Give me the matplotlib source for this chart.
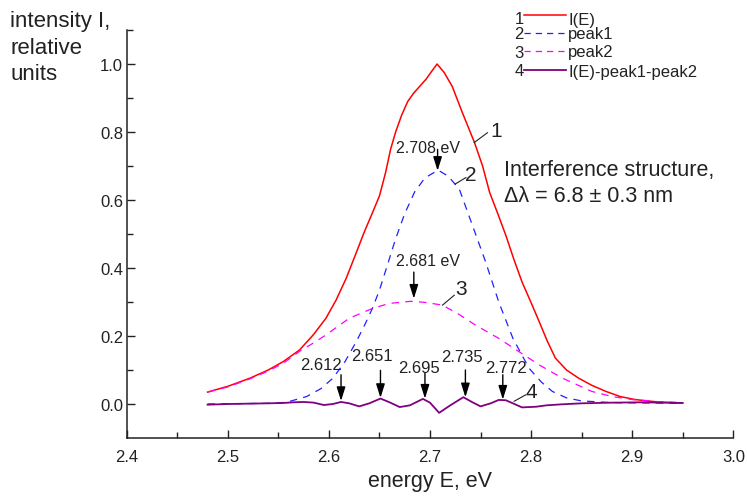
import numpy as np
import matplotlib.pyplot as plt
from matplotlib.lines import Line2D

plt.rcParams['font.family'] = ['Liberation Sans', 'DejaVu Sans']

# curve 1: I(E)
e_total = [2.480, 2.500, 2.522, 2.540, 2.555, 2.571, 2.585, 2.597, 2.607, 2.617,
           2.626, 2.635, 2.643, 2.650, 2.656, 2.661, 2.666, 2.672, 2.678, 2.684,
           2.690, 2.696, 2.702, 2.707, 2.714, 2.722, 2.732, 2.744, 2.752, 2.759,
           2.767, 2.775, 2.783, 2.791, 2.800, 2.808, 2.816, 2.824, 2.835, 2.847,
           2.860, 2.874, 2.888, 2.903, 2.925, 2.949]
i_total = [0.035, 0.052, 0.076, 0.100, 0.125, 0.159, 0.205, 0.252, 0.305, 0.369,
           0.437, 0.506, 0.562, 0.612, 0.680, 0.749, 0.800, 0.850, 0.890, 0.915,
           0.935, 0.955, 0.980, 1.000, 0.975, 0.934, 0.857, 0.769, 0.700, 0.622,
           0.560, 0.496, 0.425, 0.359, 0.298, 0.242, 0.185, 0.135, 0.100, 0.076,
           0.055, 0.037, 0.022, 0.013, 0.006, 0.003]

# curve 2: peak1
e_peak1 = [2.480, 2.540, 2.558, 2.578, 2.592, 2.604, 2.616, 2.627, 2.635, 2.643,
           2.650, 2.658, 2.666, 2.675, 2.685, 2.695, 2.708, 2.718, 2.729, 2.742,
           2.755, 2.768, 2.782, 2.798, 2.810, 2.821, 2.835, 2.850, 2.880, 2.950]
i_peak1 = [0.000, 0.002, 0.005, 0.022, 0.045, 0.076, 0.125, 0.183, 0.230, 0.281,
           0.335, 0.410, 0.486, 0.560, 0.625, 0.665, 0.688, 0.670, 0.632, 0.525,
           0.418, 0.300, 0.193, 0.105, 0.065, 0.037, 0.018, 0.009, 0.004, 0.002]

# curve 3: peak2
e_peak2 = [2.480, 2.500, 2.522, 2.540, 2.555, 2.571, 2.585, 2.597, 2.620, 2.643,
           2.660, 2.681, 2.695, 2.712, 2.728, 2.745, 2.768, 2.788, 2.808, 2.831,
           2.860, 2.880, 2.900, 2.925, 2.949]
i_peak2 = [0.035, 0.050, 0.074, 0.097, 0.120, 0.155, 0.180, 0.203, 0.252, 0.281,
           0.296, 0.302, 0.299, 0.291, 0.265, 0.232, 0.193, 0.154, 0.115, 0.076,
           0.037, 0.022, 0.013, 0.007, 0.004]

# curve 4: I(E)-peak1-peak2
e_resid = [2.480, 2.500, 2.520, 2.540, 2.555, 2.565, 2.575, 2.585, 2.595, 2.604,
           2.612, 2.620, 2.630, 2.640, 2.651, 2.660, 2.670, 2.680, 2.693, 2.700,
           2.709, 2.720, 2.733, 2.742, 2.750, 2.760, 2.768, 2.775, 2.782, 2.791,
           2.805, 2.815, 2.830, 2.850, 2.880, 2.910, 2.950]
i_resid = [-0.002, 0.000, 0.001, 0.002, 0.003, 0.005, 0.006, 0.004, -0.003, 0.000,
           0.006, 0.002, -0.007, 0.002, 0.016, 0.005, -0.009, -0.004, 0.015, 0.004,
           -0.026, -0.004, 0.020, 0.005, -0.007, 0.002, 0.012, 0.011, 0.002, -0.010,
           -0.008, -0.004, -0.001, 0.002, 0.004, 0.005, 0.003]

# interference maxima marked with arrows
fringe_e = [2.612, 2.651, 2.695, 2.735, 2.772]
fringe_labels = ['2.612', '2.651', '2.695', '2.735', '2.772']
fringe_tip = [0.009, 0.018, 0.016, 0.020, 0.013]
fringe_top = [0.086, 0.099, 0.091, 0.100, 0.086]
fringe_lab_x = [2.592, 2.643, 2.689, 2.732, 2.775]
fringe_lab_y = [0.115, 0.144, 0.107, 0.139, 0.107]

# peak position arrows
peak_e = [2.7075, 2.684]
peak_labels = ['2.708 eV', '2.681 eV']
peak_tip = [0.686, 0.310]
peak_top = [0.749, 0.388]
peak_lab_x = [2.698, 2.698]
peak_lab_y = [0.754, 0.422]

# curve number labels with leader lines
num_labels = ['1', '2', '3', '4']
num_x = [2.765, 2.7405, 2.7306, 2.7997]
num_y = [0.803, 0.676, 0.339, 0.037]
lead_x0 = [2.7437, 2.7249, 2.7124, 2.7832]
lead_y0 = [0.769, 0.647, 0.291, 0.008]
lead_x1 = [2.7568, 2.7355, 2.7240, 2.7947]
lead_y1 = [0.798, 0.666, 0.320, 0.027]

legend_labels = ['I(E)', 'peak1', 'peak2', 'I(E)-peak1-peak2']
ylabel_lines = ['intensity I,', 'relative', 'units']
x_ticks = [2.4, 2.5, 2.6, 2.7, 2.8, 2.9, 3.0]
y_ticks = [0.0, 0.2, 0.4, 0.6, 0.8, 1.0]

fig = plt.figure(figsize=(7.47, 5.02), dpi=100)
ax = fig.add_axes([0.1696, 0.1255, 0.8121, 0.8127])

red, = ax.plot(e_total, i_total, color='#ff0000', lw=1.1)
blue, = ax.plot(e_peak1, i_peak1, color='#2020ff', lw=0.9, dashes=(6, 5))
mag, = ax.plot(e_peak2, i_peak2, color='#ff00ff', lw=0.9, dashes=(6, 5))
purp, = ax.plot(e_resid, i_resid, color='#800080', lw=1.3)

ax.set_xlim(2.4, 3.0)
ax.set_ylim(-0.1, 1.1)
ax.set_xticks(x_ticks)
ax.set_xticks(np.arange(2.45, 3.0, 0.1), minor=True)
ax.set_yticks(y_ticks)
ax.set_yticks(np.arange(0.1, 1.11, 0.2), minor=True)
ax.set_xticklabels([f'{v:.1f}' for v in x_ticks])
ax.set_yticklabels([f'{v:.1f}' for v in y_ticks])
ax.tick_params(which='both', direction='in', colors='#222222', labelsize=12)
ax.tick_params(axis='x', which='major', length=6, width=1, pad=8)
ax.tick_params(axis='y', which='major', length=6, width=1, pad=2.5)
ax.tick_params(which='minor', length=4, width=1)
for s in ['top', 'right']:
    ax.spines[s].set_visible(False)
for s in ['left', 'bottom']:
    ax.spines[s].set_linewidth(1.1)
    ax.spines[s].set_color('#222222')

ax.set_xlabel('energy E, eV', fontsize=15.5, color='#222222', labelpad=4)
# y label as three separate lines at the top-left corner
for k, line in enumerate(ylabel_lines):
    fig.text(10 / 747, 1 - (22 + 26.5 * k) / 502, line, fontsize=16,
             color='#222222', va='center', ha='left')

aprops = dict(arrowstyle='-|>,head_length=0.7,head_width=0.22', color='black',
              lw=1.0, shrinkA=0, shrinkB=0, mutation_scale=12)
for x, tip, top, lab, lx, ly in zip(fringe_e, fringe_tip, fringe_top,
                                     fringe_labels, fringe_lab_x, fringe_lab_y):
    ax.annotate('', xy=(x, tip), xytext=(x, top), arrowprops=aprops)
    ax.text(lx, ly, lab, fontsize=12, ha='center', va='center', color='#222222')
for x, tip, top, lab, lx, ly in zip(peak_e, peak_tip, peak_top,
                                     peak_labels, peak_lab_x, peak_lab_y):
    ax.annotate('', xy=(x, tip), xytext=(x, top), arrowprops=aprops)
    ax.text(lx, ly, lab, fontsize=11.5, ha='center', va='center', color='#222222')

for lab, x, y, x0, y0, x1, y1 in zip(num_labels, num_x, num_y,
                                     lead_x0, lead_y0, lead_x1, lead_y1):
    ax.plot([x0, x1], [y0, y1], color='#222222', lw=0.8)
    ax.text(x, y, lab, fontsize=15, ha='center', va='center', color='#222222')

ax.text(2.773, 0.69, 'Interference structure,', fontsize=15.5, va='center',
        color='#222222')
ax.text(2.773, 0.613, '\u0394\u03bb = 6.8 \u00b1 0.3 nm', fontsize=15.5,
        va='center', color='#222222')

# hand-made legend at the top right
W, H = 747.0, 502.0
leg_line_y = [15.7, 34.3, 52.3, 71.0]
leg_text_y = [20.0, 35.0, 53.0, 72.0]
for k, (h, lab) in enumerate(zip([red, blue, mag, purp], legend_labels)):
    ly = 1 - leg_line_y[k] / H
    ln = Line2D([524 / W, 566 / W], [ly, ly], transform=fig.transFigure,
                color=h.get_color(), lw=h.get_linewidth())
    if k in (1, 2):
        ln.set_dashes((5, 4))
    fig.add_artist(ln)
    fig.text(519 / W, 1 - leg_text_y[k] / H, str(k + 1), fontsize=12,
             ha='center', va='center', color='#222222')
    fig.text(568 / W, 1 - leg_text_y[k] / H, lab, fontsize=12,
             ha='left', va='center', color='#222222')

fig.savefig('out.png', dpi=100)
